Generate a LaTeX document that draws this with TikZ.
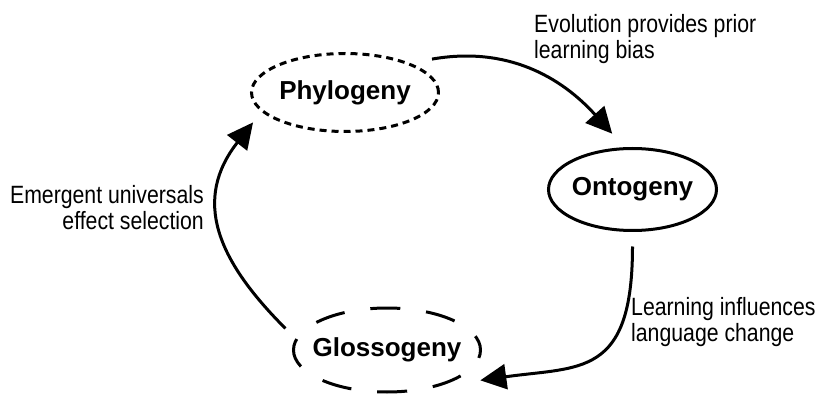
\documentclass[tikz,border=0pt]{standalone}
\usepackage{fontspec}
\setmainfont{Liberation Sans}
\newfontfamily\narrowsans[FakeStretch=0.85]{Liberation Sans}
\usetikzlibrary{arrows.meta,shapes.geometric}
\tikzset{
    %Define standard arrow tip
    >={Triangle[length=26pt,width=25pt]},
    %Define style for the three stages
    stage/.style={
           ellipse,
           draw=black, line width=3pt,
           minimum width=187pt,
           minimum height=80pt,
           inner xsep=-25pt,
           outer sep=16pt,
           font=\bfseries\fontsize{26}{30}\selectfont},
    % Define arrow style
    flow/.style={
           ->,
           line width=3pt},
    % Define style for the notes on the arrows
    note/.style={
           inner sep=0pt,
           font=\narrowsans\fontsize{25}{26}\selectfont}
}
\begin{document}
\begin{tikzpicture}[x=1pt,y=1pt]
\useasboundingbox (0,0) rectangle (822,394);
\node[stage,dash pattern=on 7pt off 5pt,minimum height=78pt](phy) at (345,301.5){Phylogeny};
\node[stage,minimum width=168pt,minimum height=82pt](ont) at (632.5,204.5){Ontogeny};
\node[stage,dash pattern=on 30pt off 26pt,dash phase=15pt,minimum height=84pt](glo) at (387,44){Glossogeny};
\draw[flow] (phy.21) to[out=10,in=132] (ont.110);
\draw[flow] (ont.270) to[out=270,in=8,out looseness=1.65,in looseness=1.27] (glo.342);
\draw[flow] (glo.168) to[out=135,in=232,looseness=1.2] (phy.198);
\node[note,anchor=north west,align=left](evo) at (534,380){Evolution provides prior\\learning bias};
\node[note,anchor=north east,align=right](emg) at (204,209){Emergent universals\\effect selection};
\node[note,anchor=north west,align=left](lrn) at (631,97){Learning influences\\language change};
\end{tikzpicture}
\end{document}
